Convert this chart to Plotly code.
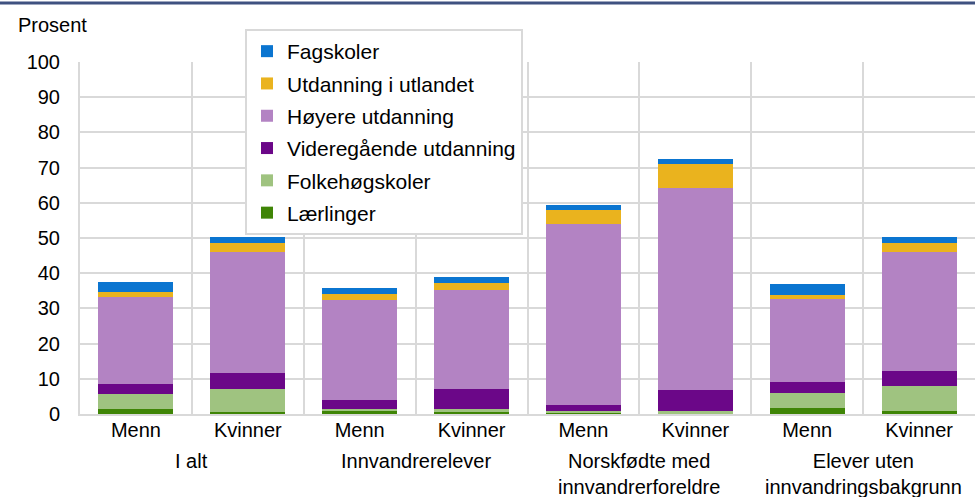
import plotly.graph_objects as go

groups = ["I alt", "Innvandrerelever", "Norskfødte med<br>innvandrerforeldre", "Elever uten<br>innvandringsbakgrunn"]
genders = ["Menn", "Kvinner"]

laerlinger = [1.4, 0.6, 0.8, 0.6, 0.2, 0.1, 1.7, 0.85]
folkehogskoler = [4.2, 6.5, 0.6, 0.8, 0.6, 0.8, 4.3, 7.1]
videregaende = [2.9, 4.5, 2.6, 5.7, 1.8, 5.9, 3.0, 4.2]
hoyere = [24.7, 34.3, 28.4, 28.1, 51.4, 57.4, 23.7, 33.8]
utlandet = [1.5, 2.8, 1.7, 2.1, 4.0, 6.8, 1.1, 2.7]
fagskoler = [2.9, 1.6, 1.7, 1.7, 1.4, 1.4, 3.1, 1.6]

series = [
    ("Lærlinger", laerlinger, "#3f8506"),
    ("Folkehøgskoler", folkehogskoler, "#9fc380"),
    ("Videregående utdanning", videregaende, "#6b0788"),
    ("Høyere utdanning", hoyere, "#b383c3"),
    ("Utdanning i utlandet", utlandet, "#eab31e"),
    ("Fagskoler", fagskoler, "#0b75d0"),
]

n = len(groups) * len(genders)
xs = list(range(n))
ticklabels = [g for _ in groups for g in genders]

FONT = "Liberation Sans, Arial, sans-serif"
FS = 20

fig = go.Figure()
for k, (name, vals, color) in enumerate(series):
    fig.add_trace(go.Bar(
        x=xs, y=vals, name=name, legendgroup=name,
        legendrank=len(series) - k,
        marker=dict(color=color, line=dict(width=0)),
    ))

fig.update_layout(
    barmode="stack",
    bargap=0.33,
    width=975, height=497,
    margin=dict(l=80, r=0, t=62, b=83, autoexpand=False),
    plot_bgcolor="white", paper_bgcolor="white",
    font=dict(family=FONT, size=FS, color="#000000"),
    showlegend=True,
    legend=dict(
        traceorder="grouped",
        tracegroupgap=2,
        x=(245 - 80) / 895, y=(414 - 29) / 352, xanchor="left", yanchor="top",
        bgcolor="white", bordercolor="#d9d9d9", borderwidth=2,
        font=dict(family=FONT, size=21, color="#000000"),
        itemwidth=30,
    ),
)

fig.update_xaxes(
    range=[-0.5, n - 0.5], automargin=False,
    tickmode="array", tickvals=xs, ticktext=ticklabels,
    showgrid=False,
    minor=dict(tickmode="array", tickvals=[i + 0.5 for i in range(n)],
               showgrid=True, gridcolor="#d9d9d9", gridwidth=2, ticks=""),
    showline=True, linecolor="#d9d9d9", linewidth=2,
    ticks="", ticklabelstandoff=-3,
    tickfont=dict(family=FONT, size=FS, color="#000000"),
)
fig.update_yaxes(
    range=[0, 100], dtick=10, automargin=False,
    showgrid=True, gridcolor="#d9d9d9", gridwidth=2,
    showline=True, linecolor="#d9d9d9", linewidth=2,
    zeroline=False,
    ticks="", ticklabelstandoff=14,
    tickfont=dict(family=FONT, size=FS, color="#000000"),
)

for i, g in enumerate(groups):
    center = i * len(genders) + (len(genders) - 1) / 2
    fig.add_annotation(
        x=center, xref="x", y=(414 - 448) / 352, yref="paper",
        text=g, showarrow=False, yanchor="top", xanchor="center",
        font=dict(family=FONT, size=FS, color="#000000"),
    )

fig.add_annotation(
    x=-80 / 895 + 16 / 895, xref="paper", y=(414 - 25) / 352, yref="paper",
    text="Prosent", showarrow=False, xanchor="left", yanchor="middle",
    font=dict(family=FONT, size=FS, color="#000000"),
)

fig.add_shape(
    type="line", xref="paper", yref="paper",
    x0=-80 / 895, x1=1.0, y0=(414 - 3) / 352, y1=(414 - 3) / 352,
    line=dict(color="#3f5180", width=3),
)

fig.write_html(
    "out.html",
    config={"displayModeBar": False},
    post_script="document.body.style.margin='0';document.body.style.overflow='hidden';",
)
